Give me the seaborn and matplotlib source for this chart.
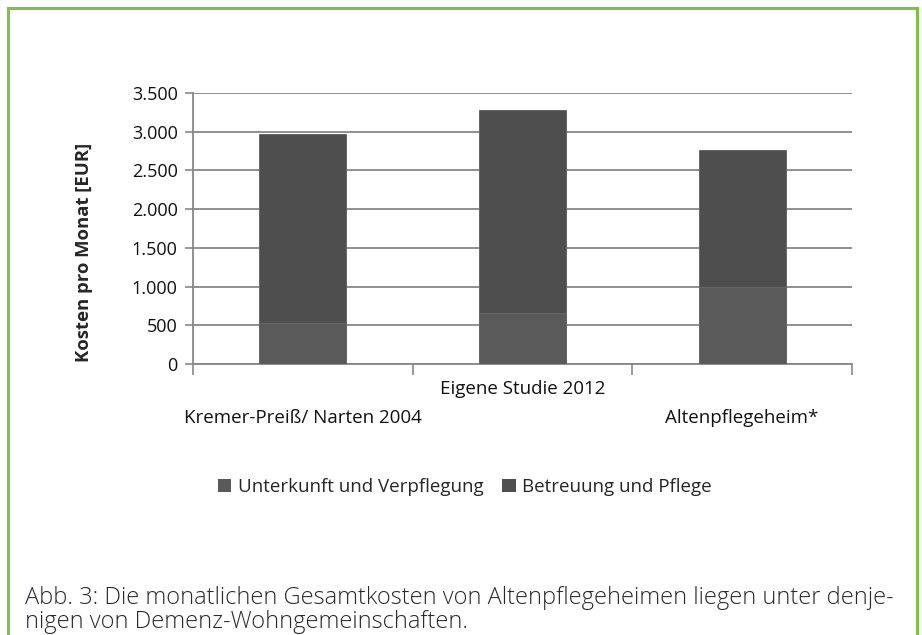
import pandas as pd
import numpy as np
import matplotlib
matplotlib.use('Agg')
import matplotlib.pyplot as plt
import seaborn as sns
from matplotlib.patches import Rectangle, Patch
from matplotlib.ticker import FuncFormatter

# Daten
categories = ['Kremer-Preiß/ Narten 2004', 'Eigene Studie 2012', 'Altenpflegeheim*']
unterkunft = [530, 655, 990]      # Unterkunft und Verpflegung (unten)
betreuung = [2440, 2625, 1775]    # Betreuung und Pflege (oben)
yticks = [0, 500, 1000, 1500, 2000, 2500, 3000, 3500]

sns.set_style('white')
plt.rcParams['font.family'] = ['Open Sans', 'DejaVu Sans']

df = pd.DataFrame({'Kategorie': categories,
                   'Unterkunft': unterkunft,
                   'Betreuung': betreuung})
df['Gesamt'] = df['Unterkunft'] + df['Betreuung']

col_top = '#4e4e4e'
col_bot = '#5a5a5a'
grid_col = '#878787'

fig = plt.figure(figsize=(9.22, 6.35), dpi=100)
ax = fig.add_axes([193/922, 1-364/635, 659/922, 271/635])

# gestapelte Balken: erst Gesamt, dann unteres Segment darueber
sns.barplot(data=df, x='Kategorie', y='Gesamt', color=col_top, width=0.395,
            edgecolor='#666666', linewidth=0.7, saturation=1, ax=ax, zorder=3)
sns.barplot(data=df, x='Kategorie', y='Unterkunft', color=col_bot, width=0.395,
            edgecolor='#666666', linewidth=0.7, saturation=1, ax=ax, zorder=4)

ax.set_xlim(-0.5, 2.5)
ax.set_ylim(0, 3500)
ax.set_yticks(yticks)
ax.yaxis.set_major_formatter(FuncFormatter(lambda v, p: f'{int(v):,}'.replace(',', '.')))
ax.grid(axis='y', color=grid_col, linewidth=1.3, zorder=0)
ax.set_axisbelow(True)

for s in ['top', 'right']:
    ax.spines[s].set_visible(False)
for s in ['left', 'bottom']:
    ax.spines[s].set_color(grid_col)
    ax.spines[s].set_linewidth(1.3)

ax.tick_params(axis='y', which='major', length=6, width=1.2, color=grid_col,
               labelsize=13, pad=5, left=True, labelcolor='#111111')
ax.set_xticks([])
ax.set_xticks([-0.5, 0.5, 1.5, 2.5], minor=True)
ax.tick_params(axis='x', which='minor', length=8, width=1.2, color=grid_col,
               direction='out', bottom=True)
ax.set_xlabel('')
ax.set_ylabel('Kosten pro Monat [EUR]', fontsize=13.3, fontweight='bold')
ax.yaxis.set_label_coords(-0.152, 0.413)

# versetzte Kategoriebeschriftungen
trans = ax.get_xaxis_transform()
offsets = [-0.199, -0.092, -0.199]
for i, lab in enumerate(categories):
    ax.text(i, offsets[i], lab, transform=trans, ha='center', va='center',
            fontsize=13.5, color='#111111')

# Legende
handles = [Patch(facecolor=col_bot, edgecolor='none'),
           Patch(facecolor=col_top, edgecolor='none')]
fig.legend(handles, ['Unterkunft und Verpflegung', 'Betreuung und Pflege'],
           loc='center', bbox_to_anchor=(465/922, 1-487/635), ncol=2,
           frameon=False, fontsize=13.5, handlelength=0.7, handleheight=0.7,
           handletextpad=0.35, columnspacing=1.0)

# Bildunterschrift
fig.text(25/922, 1-598/635,
         'Abb. 3: Die monatlichen Gesamtkosten von Altenpflegeheimen liegen unter denje-',
         fontsize=17, color='#2a2a2a', va='center', ha='left', fontweight='light')
fig.text(25/922, 1-622/635, 'nigen von Demenz-Wohngemeinschaften.',
         fontsize=17, color='#2a2a2a', va='center', ha='left', fontweight='light')

# gruener Rahmen (unten offen)
fig.patches.append(Rectangle((8/922, -0.05), 909/922, 1.05 - 8/635,
                             transform=fig.transFigure, fill=False,
                             edgecolor='#7dc242', linewidth=2.2))

fig.savefig('out.png', dpi=100)
